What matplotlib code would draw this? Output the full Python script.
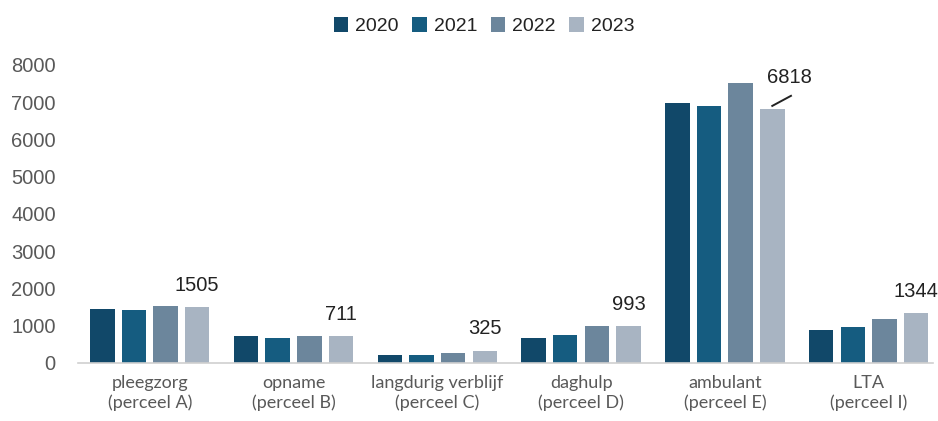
import matplotlib.pyplot as plt
import numpy as np

categories = ['pleegzorg\n(perceel A)', 'opname\n(perceel B)', 'langdurig verblijf\n(perceel C)',
              'daghulp\n(perceel D)', 'ambulant\n(perceel E)', 'LTA\n(perceel I)']
years = ['2020', '2021', '2022', '2023']
v2020 = [1460, 715, 225, 680, 6980, 895]
v2021 = [1430, 670, 200, 760, 6890, 975]
v2022 = [1530, 715, 255, 980, 7500, 1185]
v2023 = [1505, 711, 325, 993, 6818, 1344]
colors = ['#114869', '#155c80', '#6c869c', '#a8b4c2']

series = [v2020, v2021, v2022, v2023]
x = np.arange(len(categories))
offsets = [-0.33, -0.11, 0.11, 0.33]
width = 0.17

fig = plt.figure(figsize=(9.38, 4.21), dpi=100)
ax = fig.add_axes([0.083, 0.138, 0.912, 0.708])

for vals, off, col, yr in zip(series, offsets, colors, years):
    ax.bar(x + off, vals, width, color=col, label=yr)

# labels on the 2023 bars, the ambulant one sits aside with a leader line
for i, v in enumerate(v2023):
    bx = x[i] + offsets[3]
    if categories[i].startswith('ambulant'):
        ax.plot([bx, bx + 0.13], [v + 80, v + 350], color='#222222', lw=1.4)
        ax.text(bx + 0.12, v + 590, str(v), ha='center', va='bottom',
                fontsize=14.5, color='#222222', family='Liberation Sans')
    else:
        ax.text(bx, v + 330, str(v), ha='center', va='bottom',
                fontsize=14.5, color='#222222', family='Liberation Sans')

ax.set_ylim(0, 8000)
ax.set_xlim(-0.5, 5.45)
ax.set_yticks(np.arange(0, 8001, 1000))
ax.set_xticks(x)
ax.set_xticklabels(categories, fontsize=13, color='#595959', family='Lato', linespacing=1.25)
for lab in ax.get_yticklabels():
    lab.set_family('Liberation Sans')
ax.tick_params(axis='y', length=0, labelsize=14.5, labelcolor='#595959', pad=16)
ax.tick_params(axis='x', length=0, pad=9)

for s in ['top', 'right', 'left']:
    ax.spines[s].set_visible(False)
ax.spines['bottom'].set_color('#d0d0d0')
ax.spines['bottom'].set_linewidth(1.2)

fig.legend(loc='upper center', bbox_to_anchor=(0.516, 1.0), ncol=4, frameon=False,
           prop={'family': 'Liberation Sans', 'size': 14}, handlelength=0.75, handleheight=0.75,
           handletextpad=0.35, columnspacing=0.7, labelcolor='#222222')

fig.savefig('out.png', dpi=100)
